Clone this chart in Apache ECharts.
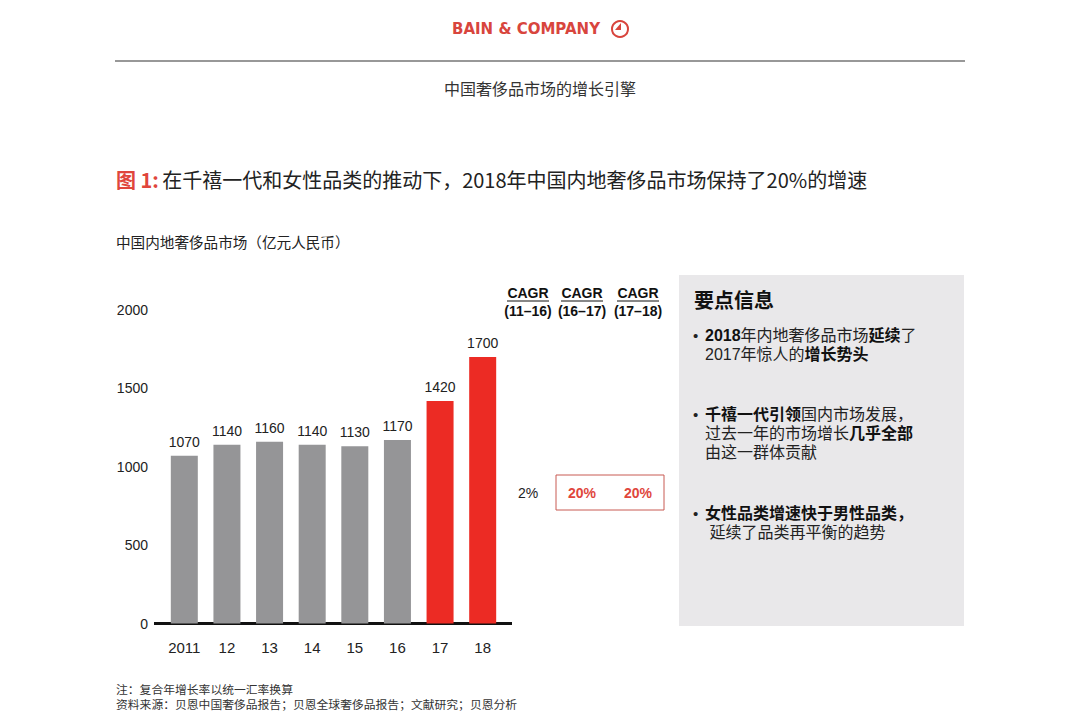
<!DOCTYPE html>
<html>
<head>
<meta charset="utf-8">
<script src="https://cdn.jsdelivr.net/npm/echarts@6/dist/echarts.min.js"></script>
<style>
  html, body { margin: 0; padding: 0; background: #fff; }
  #chart { width: 1080px; height: 721px; }
</style>
</head>
<body>
<div id="chart"></div>
<script>
  // 数据
  const years = ['2011', '12', '13', '14', '15', '16', '17', '18'];
  const marketValues = [1070, 1140, 1160, 1140, 1130, 1170, 1420, 1700];
  const highlightFrom = 6; // 17、18 年红色高亮
  const cagrPeriods = ['(11–16)', '(16–17)', '(17–18)'];
  const cagrValues = ['2%', '20%', '20%'];

  const GRAY = '#959597';
  const RED = '#ec2b24';
  const CN = '"Noto Sans CJK SC", "Liberation Sans", sans-serif';
  const LAT = '"Liberation Sans", Arial, "Noto Sans CJK SC", sans-serif';

  const chart = echarts.init(document.getElementById('chart'), null, {renderer: 'svg'});

  // CAGR 列中心位置
  const cagrX = [528, 582, 638];
  const cagrGraphics = [];
  cagrPeriods.forEach(function (p, i) {
    cagrGraphics.push({
      type: 'text', x: cagrX[i], y: 293,
      style: {text: 'CAGR', font: 'bold 14px ' + LAT, fill: '#111', align: 'center', verticalAlign: 'middle'}
    });
    cagrGraphics.push({
      type: 'line', shape: {x1: cagrX[i] - 21, y1: 301, x2: cagrX[i] + 21, y2: 301},
      style: {stroke: '#111', lineWidth: 1.2}
    });
    cagrGraphics.push({
      type: 'text', x: cagrX[i], y: 311,
      style: {text: p, font: 'bold 14px ' + LAT, fill: '#111', align: 'center', verticalAlign: 'middle'}
    });
    cagrGraphics.push({
      type: 'text', x: cagrX[i], y: 493,
      style: {
        text: cagrValues[i],
        font: (i === 0 ? 'normal ' : 'bold ') + '14px ' + LAT,
        fill: i === 0 ? '#222' : '#e0463c',
        align: 'center', verticalAlign: 'middle'
      }
    });
  });

  // 要点文字：拉丁字体优先，中文回退到 Noto CJK
  const richBase = {
    n: {fontSize: 16, lineHeight: 18, fontFamily: LAT, fill: '#222'},
    b: {fontSize: 16, lineHeight: 18, fontFamily: LAT, fill: '#111', fontWeight: 'bold'}
  };

  // 每个要点：圆点 + 逐行文字
  function bullet(y, lines) {
    const out = [{type: 'text', x: 693, y: y, style: {text: '•', font: '15px ' + LAT, fill: '#222', verticalAlign: 'middle'}}];
    lines.forEach(function (line, i) {
      out.push({type: 'text', x: 705, y: y + i * 19, style: {text: line, rich: richBase, verticalAlign: 'middle'}});
    });
    return out;
  }

  const option = {
    backgroundColor: '#fff',
    animation: false,
    grid: {left: 163, top: 310, width: 341, height: 313.5},
    xAxis: {
      type: 'category',
      data: years,
      axisLine: {show: false},
      axisTick: {show: false},
      axisLabel: {color: '#222', fontSize: 15, fontFamily: LAT, margin: 16}
    },
    yAxis: {
      type: 'value',
      min: 0, max: 2000, interval: 500,
      axisLine: {show: false},
      axisTick: {show: false},
      splitLine: {show: false},
      axisLabel: {
        color: '#222', fontSize: 14, fontFamily: LAT, margin: 15,
        formatter: function (v) { return String(v); }
      }
    },
    series: [{
      type: 'bar',
      barWidth: 27,
      data: marketValues.map(function (v, i) {
        return {value: v, itemStyle: {color: i >= highlightFrom ? RED : GRAY}};
      }),
      label: {show: true, position: 'top', distance: 7, color: '#222', fontSize: 14, fontFamily: LAT}
    }],
    graphic: [
      // 页眉
      {type: 'text', x: 526, y: 29, style: {text: 'BAIN & COMPANY', font: 'bold 15px "DejaVu Sans", sans-serif', fill: '#d8453d', align: 'center', verticalAlign: 'middle'}},
      {type: 'circle', shape: {cx: 620, cy: 29, r: 8}, style: {fill: 'none', stroke: '#d8453d', lineWidth: 2}},
      {type: 'polygon', shape: {points: [[621, 23], [621, 30], [615, 30]]}, style: {fill: '#d8453d'}},
      {type: 'line', shape: {x1: 115, y1: 61, x2: 965, y2: 61}, style: {stroke: '#333', lineWidth: 1.2}},
      {type: 'text', x: 540, y: 88, style: {text: '中国奢侈品市场的增长引擎', font: '16px ' + CN, fill: '#333', align: 'center', verticalAlign: 'middle'}},
      // 标题
      {type: 'text', x: 116, y: 179, style: {
        text: '{r|图 1:} {k|在千禧一代和女性品类的推动下，2018年中国内地奢侈品市场保持了20%的增速}',
        verticalAlign: 'middle',
        rich: {
          r: {fontSize: 20, fontFamily: CN, fontWeight: 'bold', fill: '#e0463c'},
          k: {fontSize: 20, fontFamily: CN, fill: '#222'}
        }
      }},
      {type: 'text', x: 116, y: 241, style: {text: '中国内地奢侈品市场（亿元人民币）', font: '14.6px ' + CN, fill: '#222', verticalAlign: 'middle'}},
      // 横轴线
      {type: 'line', shape: {x1: 154, y1: 623.5, x2: 512, y2: 623.5}, style: {stroke: '#111', lineWidth: 3}},
      // CAGR 框
      {type: 'rect', shape: {x: 556, y: 475, width: 108, height: 35}, style: {fill: 'none', stroke: '#c85a52', lineWidth: 1}},
      // 右侧要点面板
      {type: 'rect', shape: {x: 679, y: 275, width: 285, height: 351}, style: {fill: '#e9e8ea'}, z: 0},
      {type: 'text', x: 694, y: 299, style: {text: '要点信息', font: 'bold 20px ' + CN, fill: '#111', verticalAlign: 'middle'}}
    ]
      .concat(cagrGraphics)
      .concat(bullet(335, [
        '{b|2018}{n|年内地奢侈品市场}{b|延续}{n|了}',
        '{n|2017年惊人的}{b|增长势头}'
      ]))
      .concat(bullet(414, [
        '{b|千禧一代引领}{n|国内市场发展，}',
        '{n|过去一年的市场增长}{b|几乎全部}',
        '{n|由这一群体贡献}'
      ]))
      .concat(bullet(513, [
        '{b|女性品类增速快于男性品类，}',
        '{n| 延续了品类再平衡的趋势}'
      ]))
      .concat([
        {type: 'text', x: 116, y: 688, style: {text: '注：复合年增长率以统一汇率换算', font: '11.8px ' + CN, fill: '#333', verticalAlign: 'middle'}},
        {type: 'text', x: 116, y: 703, style: {text: '资料来源：贝恩中国奢侈品报告；贝恩全球奢侈品报告；文献研究；贝恩分析', font: '11.8px ' + CN, fill: '#333', verticalAlign: 'middle'}}
      ])
  };

  chart.setOption(option);
  window.addEventListener('resize', function () {
    chart.resize();
  });
</script>
</body>
</html>
